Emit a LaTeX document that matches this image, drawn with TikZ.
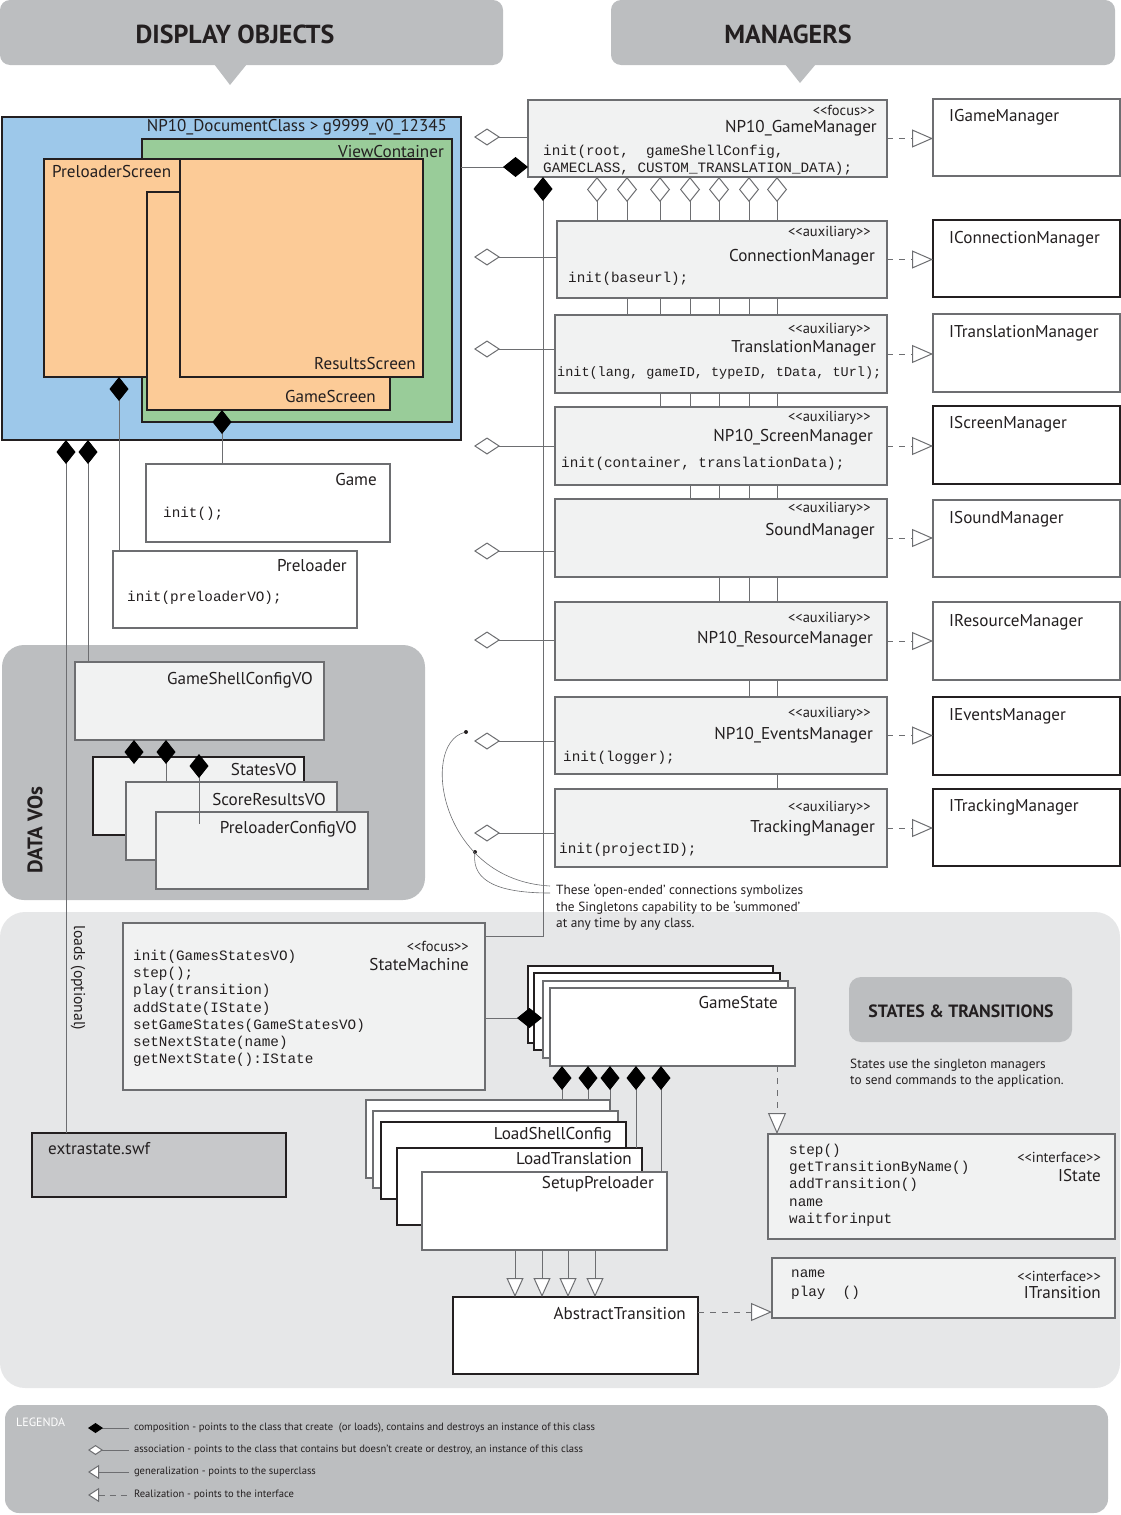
\documentclass[tikz,border=0pt]{standalone}
\usepackage{fontspec}
\setmainfont{PT Sans}
\setmonofont{Liberation Mono}
\usetikzlibrary{arrows.meta}

\pgfdeclarelayer{panel}
\pgfdeclarelayer{wire}
\pgfsetlayers{panel,wire,main}

\newcommand{\stereo}[1]{<\kern0pt<#1>\kern0pt>}
\newcommand{\namefont}{\fontsize{17.1}{19}\selectfont}
\newcommand{\stfont}{\fontsize{14.5}{16}\selectfont}
\newcommand{\codefont}{\ttfamily\fontsize{14.3}{17.2}\selectfont}

\begin{document}
\begin{tikzpicture}[x=1pt, y=-1pt]

% Colori
\definecolor{hdrGray}{HTML}{BCBEC0}
\definecolor{areaGray}{HTML}{E6E7E8}
\definecolor{boxFill}{HTML}{F1F2F2}
\definecolor{boxLine}{HTML}{6D6E71}
\definecolor{colDoc}{HTML}{9DC8EA}
\definecolor{colView}{HTML}{99CC99}
\definecolor{colScreen}{HTML}{FCCB97}
\definecolor{colSwf}{HTML}{C7C8CA}
\definecolor{inkDark}{HTML}{231F20}

\tikzset{
  box/.style={draw=boxLine, line width=1.3pt, fill=boxFill, anchor=north west, inner sep=0pt, outer sep=0pt},
  wbox/.style={box, fill=white},
  kbox/.style={box, fill=white, draw=inkDark},
  scrbox/.style={box, draw=inkDark, line width=2pt, fill=colScreen},
  nm/.style={font=\namefont, anchor=east, inner sep=0pt, text=inkDark},
  inm/.style={font=\namefont, anchor=west, inner sep=0pt, text=inkDark},
  st/.style={font=\stfont, anchor=east, inner sep=0pt, text=inkDark},
  code/.style={font=\codefont, anchor=west, inner sep=0pt, align=left, text=inkDark},
  link/.style={draw=boxLine, line width=1pt},
  assoc/.style={link, {Diamond[fill=white, length=26pt, width=17pt]}-},
  vassoc/.style={link, {Diamond[fill=white, length=25pt, width=20pt]}-},
  compo/.style={link, {Diamond[color=black, length=24pt, width=19pt]}-},
  realize/.style={link, dash pattern=on 6pt off 6pt, -{Triangle[fill=white, length=21pt, width=18pt]}},
  general/.style={link, -{Triangle[fill=white, length=19pt, width=17pt]}},
  hdr/.style={font=\fontsize{26}{28}\selectfont\bfseries, text=inkDark},
  lgtext/.style={font=\fontsize{10.6}{12}\selectfont, anchor=west, inner xsep=5pt, inner ysep=0pt, outer sep=0pt, text=inkDark},
}

\useasboundingbox (0,0) rectangle (1121,1515);

% Pannelli di sfondo
\begin{pgfonlayer}{panel}
\fill[hdrGray, rounded corners=22pt] (2,645) rectangle (425,900);
\fill[areaGray, rounded corners=25pt] (0,912) rectangle (1120,1388);
\fill[hdrGray, rounded corners=14pt] (5,1405) rectangle (1108,1513);
\end{pgfonlayer}

% Titoli
\fill[hdrGray, rounded corners=10pt] (0,0) rectangle (503,65);
\fill[hdrGray] (214,64) -- (247,64) -- (230,85) -- cycle;
\node[hdr] (h-disp) at (235,34) {DISPLAY OBJECTS};
\fill[hdrGray, rounded corners=10pt] (611,0) rectangle (1115,65);
\fill[hdrGray] (785,64) -- (816,64) -- (800,83) -- cycle;
\node[hdr] (h-mgr) at (788,34) {MANAGERS};

% Display objects
\node[box, draw=inkDark, line width=2pt, fill=colDoc, minimum width=459, minimum height=323] (doc) at (2,117) {};
\node[nm, font=\fontsize{17}{19}\selectfont] (doc-nm) at (447,127) {NP10\_DocumentClass > g9999\_v0\_12345};
\node[box, draw=inkDark, line width=2pt, fill=colView, minimum width=310, minimum height=283] (vc) at (142,139) {};
\node[nm] (vc-nm) at (444,152) {ViewContainer};
\node[scrbox, minimum width=170, minimum height=218] (pscr) at (44,159) {};
\node[inm] (pscr-nm) at (52,172) {PreloaderScreen};
\node[scrbox, minimum width=243, minimum height=218] (gscr) at (147,192) {};
\node[nm] (gscr-nm) at (376,397) {GameScreen};
\node[scrbox, minimum width=243, minimum height=218] (rscr) at (180,159) {};
\node[nm] (rscr-nm) at (416,364) {ResultsScreen};

\node[wbox, minimum width=244, minimum height=78] (game) at (146,464) {};
\node[nm] (game-nm) at (377,480) {Game};
\node[code] (game-cd) at (163,514) {init();};
\node[wbox, minimum width=244, minimum height=77] (prel) at (113,551) {};
\node[nm] (prel-nm) at (347,566) {Preloader};
\node[code] (prel-cd) at (127,598) {init(preloaderVO);};

% Data VOs
\node[rotate=90, font=\fontsize{21}{23}\selectfont\bfseries, text=inkDark] (dvo) at (35,830) {DATA VOs};
\node[box, minimum width=249, minimum height=78] (gsc) at (75,662) {};
\node[nm] (gsc-nm) at (313,680) {GameShellConfigVO};
\node[box, draw=inkDark, minimum width=211, minimum height=78] (svo) at (93,757) {};
\node[nm] (svo-nm) at (297,770) {StatesVO};
\node[box, minimum width=211, minimum height=78] (srvo) at (126,782) {};
\node[nm] (srvo-nm) at (326,800) {ScoreResultsVO};
\node[box, minimum width=212, minimum height=77] (pcvo) at (156,812) {};
\node[nm] (pcvo-nm) at (357,829) {PreloaderConfigVO};
\coordinate (pcvo-in) at (199,824);

% Managers
\node[box, minimum width=359, minimum height=77] (gm) at (528,100) {};
\node[st] (gm-st) at (875,110) {\stereo{focus}};
\node[nm] (gm-nm) at (877,128) {NP10\_GameManager};
\node[code, anchor=north west] (gm-cd) at (543,145) {init(root,\ \ gameShellConfig,\\GAMECLASS, CUSTOM\_TRANSLATION\_DATA);};

\node[box, minimum width=330, minimum height=77] (cm) at (557,221) {};
\node[st] (cm-st) at (871,233) {\stereo{auxiliary}};
\node[nm] (cm-nm) at (875,257) {ConnectionManager};
\node[code] (cm-cd) at (568,279) {init(baseurl);};

\node[box, minimum width=332, minimum height=78] (tm) at (555,315) {};
\node[st] (tm-st) at (871,330) {\stereo{auxiliary}};
\node[nm] (tm-nm) at (876,348) {TranslationManager};
\node[code, font=\ttfamily\fontsize{13.5}{16}\selectfont] (tm-cd) at (557,373) {init(lang, gameID, typeID, tData, tUrl);};

\node[box, minimum width=332, minimum height=78] (scm) at (555,407) {};
\node[st] (scm-st) at (871,418) {\stereo{auxiliary}};
\node[nm] (scm-nm) at (873,437) {NP10\_ScreenManager};
\node[code] (scm-cd) at (561,464) {init(container, translationData);};

\node[box, minimum width=332, minimum height=78] (som) at (555,499) {};
\node[st] (som-st) at (871,509) {\stereo{auxiliary}};
\node[nm] (som-nm) at (875,531) {SoundManager};

\node[box, minimum width=332, minimum height=78] (rm) at (555,602) {};
\node[st] (rm-st) at (871,619) {\stereo{auxiliary}};
\node[nm] (rm-nm) at (873,639) {NP10\_ResourceManager};

\node[box, minimum width=332, minimum height=77] (em) at (555,697) {};
\node[st] (em-st) at (871,714) {\stereo{auxiliary}};
\node[nm] (em-nm) at (873,735) {NP10\_EventsManager};
\node[code] (em-cd) at (563,758) {init(logger);};

\node[box, minimum width=332, minimum height=78] (trk) at (555,789) {};
\node[st] (trk-st) at (871,808) {\stereo{auxiliary}};
\node[nm] (trk-nm) at (875,828) {TrackingManager};
\node[code] (trk-cd) at (559,850) {init(projectID);};

% Interfacce
\node[wbox, minimum width=187, minimum height=77] (igm) at (933,99) {};
\node[inm] (igm-nm) at (949,117) {IGameManager};
\node[kbox, minimum width=187, minimum height=77] (icm) at (933,220) {};
\node[inm] (icm-nm) at (949,239) {IConnectionManager};
\node[wbox, minimum width=187, minimum height=78] (itm) at (933,314) {};
\node[inm] (itm-nm) at (949,333) {ITranslationManager};
\node[kbox, minimum width=187, minimum height=78] (iscm) at (933,406) {};
\node[inm] (iscm-nm) at (949,424) {IScreenManager};
\node[wbox, minimum width=187, minimum height=77] (isom) at (933,500) {};
\node[inm] (isom-nm) at (949,519) {ISoundManager};
\node[wbox, minimum width=187, minimum height=78] (irm) at (933,602) {};
\node[inm] (irm-nm) at (949,622) {IResourceManager};
\node[kbox, minimum width=187, minimum height=78] (iem) at (933,697) {};
\node[inm] (iem-nm) at (949,716) {IEventsManager};
\node[kbox, minimum width=187, minimum height=77] (itrk) at (933,789) {};
\node[inm] (itrk-nm) at (949,807) {ITrackingManager};

% State machine
\node[box, minimum width=362, minimum height=167] (sm) at (123,923) {};
\node[st] (sm-st) at (469,946) {\stereo{focus}};
\node[nm] (sm-nm) at (469,965) {StateMachine};
\node[code, anchor=north west] (sm-cd) at (133,950) {init(GamesStatesVO)\\step();\\play(transition)\\addState(IState)\\setGameStates(GameStatesVO)\\setNextState(name)\\getNextState():IState};
\node[rotate=-90, font=\fontsize{15.7}{17}\selectfont, text=inkDark] (loads) at (78,978) {loads (optional)};
\node[box, draw=inkDark, line width=2pt, fill=colSwf, minimum width=254, minimum height=64] (swf) at (32,1133) {};
\node[inm] (swf-nm) at (48,1149) {extrastate.swf};

\node[kbox, minimum width=245, minimum height=77] (gs1) at (528,966) {};
\node[kbox, minimum width=246, minimum height=77] (gs2) at (534,973) {};
\node[wbox, minimum width=245, minimum height=77] (gs3) at (543,981) {};
\node[wbox, minimum width=245, minimum height=78] (gs) at (550,988) {};
\node[nm] (gs-nm) at (778,1003) {GameState};

\node[wbox, minimum width=244, minimum height=78] (ls1) at (366,1100) {};
\node[wbox, minimum width=245, minimum height=77] (ls2) at (373,1111) {};
\node[kbox, minimum width=245, minimum height=77] (lsc) at (381,1122) {};
\node[nm] (lsc-nm) at (612,1135) {LoadShellConfig};
\node[kbox, minimum width=245, minimum height=77] (ltr) at (397,1148) {};
\node[nm] (ltr-nm) at (632,1159) {LoadTranslation};
\node[wbox, minimum width=245, minimum height=78] (spl) at (422,1172) {};
\node[nm] (spl-nm) at (654,1184) {SetupPreloader};

\node[kbox, minimum width=245, minimum height=77] (abt) at (453,1297) {};
\node[nm] (abt-nm) at (686,1314) {AbstractTransition};

\node[box, minimum width=347, minimum height=105] (ist) at (768,1134) {};
\node[st] (ist-st) at (1101,1157) {\stereo{interface}};
\node[nm] (ist-nm) at (1101,1175) {IState};
\node[code, anchor=north west] (ist-cd) at (789,1144) {step()\\getTransitionByName()\\addTransition()\\name\\waitforinput};
\node[box, minimum width=343, minimum height=60] (itr) at (772,1258) {};
\node[st] (itr-st) at (1101,1276) {\stereo{interface}};
\node[nm] (itr-nm) at (1101,1293) {ITransition};
\node[code, anchor=north west, font=\ttfamily\fontsize{14.3}{19}\selectfont] (itr-cd) at (791,1270) {name\\play\ \ ()};

\fill[hdrGray, rounded corners=12pt] (849,977) rectangle (1072,1042);
\node[font=\fontsize{17.8}{19}\selectfont\bfseries, text=inkDark] (h-st) at (961,1011) {STATES \& TRANSITIONS};
\node[font=\fontsize{13.3}{16}\selectfont, anchor=north west, align=left, inner sep=0pt, text=inkDark] (st-note) at (850,1059) {States use the singleton managers\\to send commands to the application.};

% Nota sulle connessioni aperte
\node[font=\fontsize{13.3}{16.5}\selectfont, anchor=north west, align=left, inner sep=0pt, text=inkDark] (note) at (556,884) {These ‘open-ended’ connections symbolizes\\the Singletons capability to be ‘summoned’\\at any time by any class.};
\node[circle, fill=inkDark, inner sep=0pt, minimum size=4pt] (dot1) at (466,732) {};
\node[circle, fill=inkDark, inner sep=0pt, minimum size=4pt] (dot2) at (475,852) {};
\coordinate (c1) at (550,886);
\coordinate (c2) at (550,893);
\draw[link, line width=0.6pt] (dot1) .. controls (420,745) and (440,880) .. (c1);
\draw[link, line width=0.6pt] (dot2) .. controls (472,882) and (500,893) .. (c2);

% Connessioni display objects
\draw[compo, shorten <=-12pt] (vc.south -| 222,0) -- (game.north -| 222,0);
\draw[compo] (pscr.south -| 119,0) -- (prel.north -| 119,0);
\draw[compo] (doc.south -| 66,0) -- (swf.north -| 66,0);
\draw[compo] (doc.south -| 88,0) -- (gsc.north -| 88,0);
\draw[compo] (gsc.south -| 134,0) -- (svo.north -| 134,0);
\draw[compo] (gsc.south -| 166,0) -- (srvo.north -| 166,0);
\draw[compo, shorten <=14pt] (gsc.south -| 199,0) -- (pcvo-in);

% Connessioni managers
\draw[link, -{Diamond[color=black, length=25pt, width=20pt]}] (doc.east |- 0,167) -- (gm.west |- 0,167);
\draw[compo] (gm.south -| 543,0) |- ([yshift=-13pt]sm.north east);
\begin{pgfonlayer}{wire}
\draw[vassoc] (gm.south -| 597,0) -- (cm.north -| 597,0);
\draw[vassoc] (gm.south -| 627,0) -- (tm.north -| 627,0);
\draw[vassoc] (gm.south -| 660,0) -- (scm.north -| 660,0);
\draw[vassoc] (gm.south -| 690,0) -- (som.north -| 690,0);
\draw[vassoc] (gm.south -| 719,0) -- (rm.north -| 719,0);
\draw[vassoc] (gm.south -| 749,0) -- (em.north -| 749,0);
\draw[vassoc] (gm.south -| 777,0) -- (trk.north -| 777,0);
\end{pgfonlayer}

\coordinate (a-gm) at (474,137);
\coordinate (a-cm) at (474,257);
\coordinate (a-tm) at (474,349);
\coordinate (a-scm) at (474,446);
\coordinate (a-som) at (474,551);
\coordinate (a-rm) at (474,640);
\coordinate (a-em) at (474,741);
\coordinate (a-trk) at (474,833);
\draw[assoc] (a-gm) -- (gm.west |- a-gm);
\draw[assoc] (a-cm) -- (cm.west |- a-cm);
\draw[assoc] (a-tm) -- (tm.west |- a-tm);
\draw[assoc] (a-scm) -- (scm.west |- a-scm);
\draw[assoc] (a-som) -- (som.west |- a-som);
\draw[assoc] (a-rm) -- (rm.west |- a-rm);
\draw[assoc] (a-em) -- (em.west |- a-em);
\draw[assoc] (a-trk) -- (trk.west |- a-trk);

\draw[realize] (gm.east) -- (gm.east -| igm.west);
\draw[realize] (cm.east) -- (cm.east -| icm.west);
\draw[realize] (tm.east) -- (tm.east -| itm.west);
\draw[realize] (scm.east) -- (scm.east -| iscm.west);
\draw[realize] (som.east) -- (som.east -| isom.west);
\draw[realize] (rm.east) -- (rm.east -| irm.west);
\draw[realize] (em.east) -- (em.east -| iem.west);
\draw[realize] (trk.east) -- (trk.east -| itrk.west);

% Connessioni stati e transizioni
\draw[link, shorten >=8pt, -{Diamond[color=black, length=25pt, width=20pt]}] (sm.east |- 0,1018) -- (gs.west |- 0,1018);
\draw[compo] (gs.south -| 562,0) -- (ls1.north -| 562,0);
\draw[compo] (gs.south -| 588,0) -- (ls1.north -| 588,0);
\draw[compo] (gs.south -| 610,0) -- (ls1.north -| 610,0);
\draw[compo] (gs.south -| 636,0) -- (ltr.north -| 636,0);
\draw[compo] (gs.south -| 661,0) -- (spl.north -| 661,0);
\draw[realize] (gs.south -| 777,0) -- (ist.north -| 777,0);
\draw[general] (spl.south -| 515,0) -- (abt.north -| 515,0);
\draw[general] (spl.south -| 542,0) -- (abt.north -| 542,0);
\draw[general] (spl.south -| 568,0) -- (abt.north -| 568,0);
\draw[general] (spl.south -| 595,0) -- (abt.north -| 595,0);
\draw[realize] (abt.east |- 0,1312) -- (itr.west |- 0,1312);

% Legenda
\node[font=\fontsize{12}{13}\selectfont, text=white, anchor=west, inner sep=0pt] (lg-title) at (16,1422) {LEGENDA};
\node[lgtext] (lg1) at (129,1428) {composition - points to the class that create\ \ (or loads), contains and destroys an instance of this class};
\node[lgtext] (lg2) at (129,1450) {association - points to the class that contains but doesn’t create or destroy, an instance of this class};
\node[lgtext] (lg3) at (129,1472) {generalization - points to the superclass};
\node[lgtext] (lg4) at (129,1495) {Realization - points to the interface};
\coordinate (lg1-s) at (88,1428);
\coordinate (lg2-s) at (88,1450);
\coordinate (lg3-s) at (88,1472);
\coordinate (lg4-s) at (88,1495);
\draw[link, {Diamond[color=black, length=15pt, width=10pt]}-] (lg1-s) -- (lg1.west);
\draw[link, {Diamond[fill=white, length=15pt, width=10pt]}-] (lg2-s) -- (lg2.west);
\draw[link, {Triangle[fill=white, length=11pt, width=14pt]}-] (lg3-s) -- (lg3.west);
\draw[link, dash pattern=on 6pt off 5pt, {Triangle[fill=white, length=11pt, width=14pt]}-] (lg4-s) -- (lg4.west);

\end{tikzpicture}
\end{document}
